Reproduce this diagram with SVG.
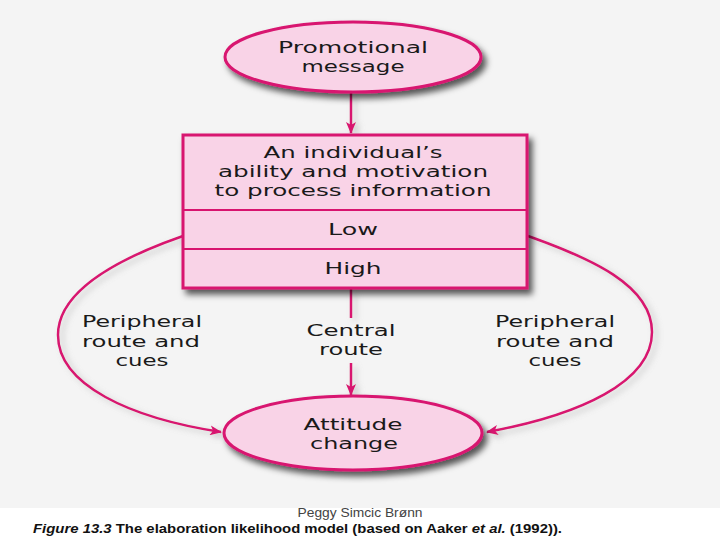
<svg xmlns="http://www.w3.org/2000/svg" width="720" height="540" viewBox="0 0 720 540">
<defs>
<style>
.shape{fill:#f9d3e7;stroke:#d8146f;stroke-width:3}
.div{stroke:#d8146f;stroke-width:2;fill:none}
.conn{stroke:#d8146f;stroke-width:2.5;fill:none}
.t{font-family:"DejaVu Sans","Open Sans",sans-serif;font-size:15px;fill:#1a1a1a;text-anchor:middle}
.cap{font-family:"Liberation Sans",Arial,sans-serif;font-size:13px;font-weight:bold;fill:#111}
.by{font-family:"Liberation Sans",Arial,sans-serif;font-size:13px;fill:#444;text-anchor:middle}
</style>
<filter id="sh" x="-20%" y="-20%" width="150%" height="160%">
<feDropShadow dx="4" dy="5" stdDeviation="3" flood-color="#000" flood-opacity="0.65"/>
</filter>
<filter id="csh" x="-20%" y="-20%" width="150%" height="150%">
<feDropShadow dx="4" dy="3" stdDeviation="3" flood-color="#888" flood-opacity="0.45"/>
</filter>
<marker id="ah" viewBox="0 0 12 10" refX="11" refY="5" markerWidth="12" markerHeight="10" markerUnits="userSpaceOnUse" orient="auto">
<path d="M0,0 L12,5 L0,10 L3,5 Z" fill="#d8146f"/>
</marker>
</defs>
<rect x="0" y="0" width="720" height="508" fill="#f4f4f4"/>
<rect x="0" y="508" width="720" height="32" fill="#ffffff"/>

<g id="connectors" filter="url(#csh)">
<line class="conn" x1="351" y1="93" x2="351" y2="133" marker-end="url(#ah)"/>
<line class="conn" x1="351" y1="289" x2="351" y2="318"/>
<line class="conn" x1="351" y1="363" x2="351" y2="395" marker-end="url(#ah)"/>
<path class="conn" d="M183,236 C120,258 58,290 58,335 C58,385 130,418 221,432" marker-end="url(#ah)"/>
<path class="conn" d="M528,236 C590,258 652,285 652,332 C652,382 580,415 487,432" marker-end="url(#ah)"/>
</g>

<g id="promo">
<ellipse class="shape" cx="353" cy="57" rx="128" ry="35" filter="url(#sh)"/>
<text class="t" x="353" y="53" textLength="150" lengthAdjust="spacingAndGlyphs">Promotional</text>
<text class="t" x="353" y="72" textLength="103" lengthAdjust="spacingAndGlyphs">message</text>
</g>

<g id="ability">
<rect class="shape" x="183" y="135" width="344" height="153" filter="url(#sh)"/>
<line class="div" x1="183" y1="210" x2="527" y2="210"/>
<line class="div" x1="183" y1="249" x2="527" y2="249"/>
<text class="t" x="353" y="158" textLength="179" lengthAdjust="spacingAndGlyphs">An individual’s</text>
<text class="t" x="353" y="177" textLength="270" lengthAdjust="spacingAndGlyphs">ability and motivation</text>
<text class="t" x="353" y="196" textLength="277" lengthAdjust="spacingAndGlyphs">to process information</text>
<text class="t" x="353" y="235" textLength="50" lengthAdjust="spacingAndGlyphs">Low</text>
<text class="t" x="353" y="274" textLength="57" lengthAdjust="spacingAndGlyphs">High</text>
</g>

<g id="attitude">
<ellipse class="shape" cx="353" cy="433" rx="129" ry="37" filter="url(#sh)"/>
<text class="t" x="353" y="430" textLength="99" lengthAdjust="spacingAndGlyphs">Attitude</text>
<text class="t" x="354" y="449" textLength="88" lengthAdjust="spacingAndGlyphs">change</text>
</g>

<g id="label-left">
<text class="t" x="142" y="327" textLength="120" lengthAdjust="spacingAndGlyphs">Peripheral</text>
<text class="t" x="141" y="347" textLength="118" lengthAdjust="spacingAndGlyphs">route and</text>
<text class="t" x="142" y="366" textLength="53" lengthAdjust="spacingAndGlyphs">cues</text>
</g>

<g id="label-central">
<text class="t" x="351" y="336" textLength="89" lengthAdjust="spacingAndGlyphs">Central</text>
<text class="t" x="351" y="355" textLength="64" lengthAdjust="spacingAndGlyphs">route</text>
</g>

<g id="label-right">
<text class="t" x="555" y="327" textLength="120" lengthAdjust="spacingAndGlyphs">Peripheral</text>
<text class="t" x="555" y="347" textLength="118" lengthAdjust="spacingAndGlyphs">route and</text>
<text class="t" x="555" y="366" textLength="53" lengthAdjust="spacingAndGlyphs">cues</text>
</g>

<g id="caption">
<text class="by" x="360" y="517" textLength="125" lengthAdjust="spacingAndGlyphs">Peggy Simcic Brønn</text>
<text class="cap" x="33" y="533" textLength="529" lengthAdjust="spacingAndGlyphs"><tspan font-style="italic">Figure 13.3</tspan>  The elaboration likelihood model (based on Aaker <tspan font-style="italic">et al.</tspan> (1992)).</text>
</g>
</svg>
